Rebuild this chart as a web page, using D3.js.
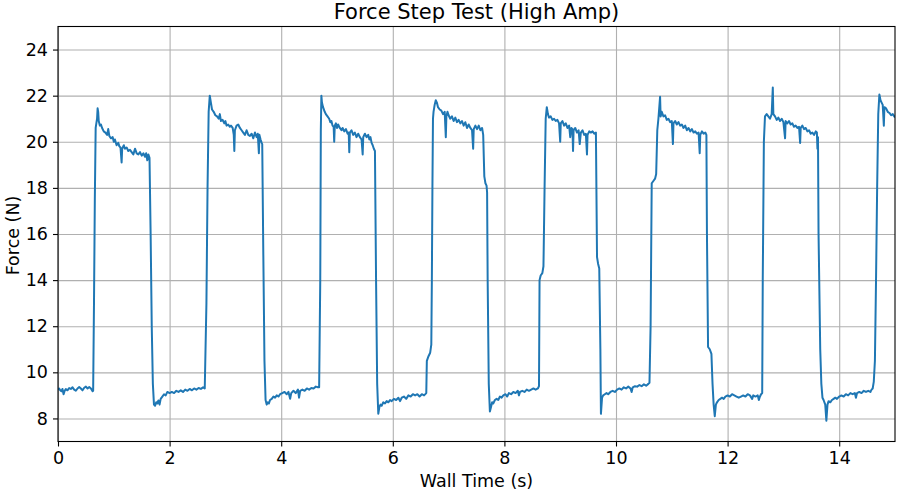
<!DOCTYPE html>
<html>
<head>
<meta charset="utf-8">
<script src="https://cdn.jsdelivr.net/npm/d3@7"></script>
<style>
  body { margin: 0; background: #fff; }
  text { font-family: "DejaVu Sans", sans-serif; fill: #000; }
</style>
</head>
<body>
<div class="chart"></div>
<script>
// readings: [wall time (s), force (N)]
let cycle1 = [
  [0,9.25],[0.02,9.3],[0.04,9.22],[0.06,9.18],[0.08,9.28],[0.1,9.05],[0.12,9.2],[0.14,9.27],[0.17,9.22],[0.2,9.32],
  [0.23,9.28],[0.26,9.35],[0.29,9.25],[0.32,9.2],[0.35,9.3],[0.38,9.36],[0.41,9.3],[0.44,9.22],[0.47,9.33],[0.5,9.38],
  [0.53,9.3],[0.56,9.36],[0.59,9.3],[0.62,9.18],[0.63,9.2],
  [0.645,13],[0.66,17.5],[0.675,20.6],[0.7,21.0],[0.71,21.45],[0.72,21.3],[0.73,20.9],[0.75,20.7],[0.77,20.75],[0.79,20.6],
  [0.82,20.45],[0.85,20.4],[0.88,20.3],[0.9,20.55],[0.92,20.25],[0.95,20.15],[0.98,20.2],[1.0,20.0],[1.02,20.1],[1.05,19.85],
  [1.08,19.95],[1.1,19.8],[1.12,19.75],[1.14,19.1],[1.15,19.7],[1.18,19.85],[1.2,19.7],[1.23,19.75],[1.26,19.6],[1.29,19.65],
  [1.32,19.55],[1.35,19.45],[1.38,19.7],[1.41,19.5],[1.44,19.45],[1.47,19.55],[1.5,19.4],[1.53,19.5],[1.56,19.35],[1.58,19.5],
  [1.6,19.2],[1.62,19.45],[1.64,19.3]
];
let cycle2 = [
  [1.66,16],[1.68,12],[1.7,9.5],[1.72,8.6],[1.74,8.55],[1.76,8.7],[1.78,8.65],[1.8,8.78],[1.82,8.6],[1.84,8.85],
  [1.87,8.95],[1.9,9.05],[1.93,9.0],[1.96,9.15],[2.0,9.1],[2.04,9.15],[2.08,9.1],[2.12,9.2],[2.16,9.15],[2.2,9.22],
  [2.24,9.15],[2.28,9.25],[2.32,9.2],[2.36,9.28],[2.4,9.22],[2.44,9.3],[2.48,9.25],[2.52,9.32],[2.56,9.28],[2.6,9.35],[2.63,9.3],
  [2.66,13],[2.68,18],[2.7,21.3],[2.72,22.0],[2.74,21.7],[2.76,21.4],[2.79,21.3],[2.82,21.15],[2.85,21.1],[2.88,21.0],
  [2.9,21.2],[2.92,20.9],[2.95,20.95],[2.98,20.8],[3.0,20.9],[3.02,20.7],[3.05,20.75],[3.08,20.65],[3.1,20.7],[3.13,20.6],
  [3.15,20.3],[3.16,19.6],[3.17,20.5],[3.2,20.7],[3.23,20.75],[3.26,20.6],[3.29,20.5],[3.32,20.4],[3.35,20.3],[3.38,20.5],
  [3.41,20.3],[3.44,20.25],[3.47,20.35],[3.5,20.15],[3.53,20.4],[3.56,20.2],[3.58,20.35],[3.6,19.5],[3.61,20.3],[3.63,20.1],
  [3.65,19.95],[3.66,19.9]
];
let cycle3 = [
  [3.68,15],[3.7,10.5],[3.72,8.8],[3.74,8.6],[3.76,8.7],[3.78,8.65],[3.8,8.8],[3.83,8.85],[3.86,8.95],[3.89,8.9],
  [3.92,9.0],[3.95,8.95],[3.98,9.05],[4.02,9.1],[4.06,9.15],[4.1,9.05],[4.13,9.15],[4.16,8.85],[4.18,9.1],[4.22,9.2],
  [4.26,9.1],[4.3,9.25],[4.32,8.9],[4.34,9.2],[4.38,9.25],[4.42,9.2],[4.46,9.3],[4.5,9.25],[4.54,9.32],[4.58,9.3],
  [4.62,9.38],[4.66,9.35],[4.68,9.35],
  [4.7,14],[4.71,20.5],[4.72,22.0],[4.73,21.7],[4.75,21.5],[4.78,21.3],[4.8,21.2],[4.83,21.1],[4.86,21.0],[4.88,20.85],
  [4.9,20.9],[4.92,20.7],[4.94,20.65],[4.95,20.0],[4.96,20.7],[4.98,20.8],[5.0,20.6],[5.02,20.75],[5.05,20.6],[5.08,20.5],
  [5.1,20.6],[5.13,20.45],[5.16,20.55],[5.19,20.35],[5.21,20.4],[5.22,19.55],[5.23,20.4],[5.26,20.5],[5.29,20.3],[5.32,20.4],
  [5.35,20.2],[5.38,20.35],[5.41,20.2],[5.44,20.1],[5.46,19.45],[5.47,20.2],[5.5,20.35],[5.53,20.2],[5.56,20.3],[5.58,20.1],
  [5.6,20.2],[5.62,19.95],[5.64,19.85],[5.66,19.7],[5.68,19.6]
];
let cycle4 = [
  [5.7,14],[5.72,9.5],[5.74,8.2],[5.76,8.5],[5.78,8.6],[5.8,8.55],[5.83,8.7],[5.86,8.65],[5.89,8.75],[5.92,8.7],
  [5.95,8.8],[5.98,8.75],[6.02,8.85],[6.06,8.8],[6.1,8.9],[6.13,8.75],[6.16,8.9],[6.2,8.95],[6.24,8.85],[6.28,9.0],
  [6.32,8.95],[6.36,9.05],[6.4,9.0],[6.44,9.05],[6.48,8.95],[6.52,9.05],[6.56,9.0],[6.6,9.1],[6.61,10.5],[6.64,10.7],
  [6.67,10.85],[6.69,11.2],[6.7,14],[6.71,18],[6.72,21.0],
  [6.73,21.3],[6.75,21.6],[6.77,21.8],[6.79,21.7],[6.81,21.5],[6.84,21.4],[6.87,21.35],[6.9,21.2],[6.93,21.3],[6.95,20.2],
  [6.96,21.1],[6.98,21.3],[7.0,21.15],[7.03,21.0],[7.06,21.1],[7.09,20.9],[7.12,21.05],[7.15,20.85],[7.18,20.95],[7.21,20.8],
  [7.24,20.9],[7.27,20.7],[7.3,20.85],[7.33,20.6],[7.36,20.75],[7.39,20.6],[7.42,20.5],[7.44,19.7],[7.45,20.55],[7.48,20.7],
  [7.51,20.55],[7.54,20.7],[7.57,20.5],[7.6,20.6],[7.62,20.3],[7.64,18.5],[7.66,18.2],[7.68,18.1],[7.69,17.8]
];
let cycle5 = [
  [7.7,14],[7.72,9.5],[7.74,8.3],[7.76,8.5],[7.78,8.7],[7.8,8.65],[7.83,8.8],[7.86,8.85],[7.89,8.8],[7.92,8.95],
  [7.95,8.9],[7.98,9.0],[8.02,9.05],[8.05,8.95],[8.08,9.1],[8.12,9.05],[8.16,9.15],[8.2,9.1],[8.24,9.2],[8.26,9.0],
  [8.28,9.15],[8.32,9.2],[8.36,9.15],[8.4,9.25],[8.44,9.2],[8.48,9.25],[8.52,9.3],[8.56,9.25],[8.6,9.3],[8.62,9.4],
  [8.63,14.0],[8.65,14.2],[8.68,14.3],[8.7,14.6],[8.72,18],[8.74,21.0],[8.76,21.5],
  [8.78,21.2],[8.8,21.05],[8.83,21.1],[8.86,20.95],[8.89,21.0],[8.92,20.9],[8.95,20.95],[8.98,20.8],[9.0,20.0],[9.01,20.8],
  [9.04,20.9],[9.07,20.7],[9.1,20.8],[9.13,20.6],[9.16,20.7],[9.18,20.2],[9.2,20.6],[9.22,20.55],[9.23,19.6],[9.24,20.5],
  [9.27,20.6],[9.3,20.4],[9.33,20.5],[9.35,19.9],[9.37,20.4],[9.4,20.5],[9.43,20.3],[9.46,20.35],[9.48,19.45],[9.49,20.3],
  [9.52,20.45],[9.55,20.4],[9.58,20.45],[9.61,20.35],[9.64,20.4],[9.66,15],[9.68,14.7],[9.7,14.5],[9.72,11],[9.73,8.2]
];
let cycle6 = [
  [9.75,8.9],[9.77,9.0],[9.8,9.05],[9.83,9.1],[9.86,9.05],[9.9,9.15],[9.94,9.2],[9.98,9.15],[10.02,9.25],[10.06,9.3],
  [10.1,9.25],[10.14,9.35],[10.18,9.3],[10.22,9.38],[10.26,9.3],[10.28,9.15],[10.3,9.35],[10.34,9.4],[10.38,9.38],[10.42,9.45],
  [10.46,9.4],[10.5,9.48],[10.54,9.42],[10.58,9.5],[10.6,9.55],[10.62,12],[10.64,18.2],[10.67,18.3],[10.7,18.4],[10.72,18.6],
  [10.74,20.5],[10.76,21.0],[10.79,21.95],[10.8,21.1],[10.82,21.3],
  [10.85,21.1],[10.88,21.15],[10.91,20.95],[10.94,21.0],[10.97,20.85],[11.0,20.9],[11.02,19.9],[11.03,20.8],[11.06,20.9],[11.09,20.75],
  [11.12,20.85],[11.15,20.7],[11.18,20.75],[11.21,20.6],[11.24,20.7],[11.27,20.5],[11.3,20.6],[11.33,20.45],[11.36,20.55],[11.39,20.4],
  [11.42,20.45],[11.45,20.35],[11.48,20.4],[11.5,19.5],[11.51,20.3],[11.54,20.45],[11.57,20.35],[11.6,20.4],[11.62,20.3],[11.63,16],
  [11.65,11.1],[11.68,11.0],[11.71,10.8],[11.73,9.5],[11.75,8.6],[11.77,8.1]
];
let cycle7 = [
  [11.79,8.6],[11.81,8.7],[11.84,8.8],[11.87,8.85],[11.9,8.9],[11.93,8.85],[11.96,8.95],[12.0,9.0],[12.04,8.95],[12.08,9.05],
  [12.12,9.0],[12.16,8.95],[12.2,8.9],[12.24,8.95],[12.28,9.0],[12.32,8.95],[12.36,9.05],[12.4,9.0],[12.44,8.85],[12.46,9.0],
  [12.5,8.95],[12.54,9.0],[12.56,8.8],[12.58,8.95],[12.6,9.05],[12.62,9.1],[12.63,14],[12.65,20],[12.67,21.1],[12.7,21.2],
  [12.73,21.1],[12.76,21.0],[12.79,21.2],[12.81,22.35],[12.82,21.2],[12.85,21.1],
  [12.88,20.95],[12.91,21.05],[12.94,20.9],[12.97,21.0],[13.0,20.85],[13.03,20.15],[13.04,20.9],[13.07,20.8],[13.1,20.9],[13.13,20.75],
  [13.16,20.8],[13.19,20.65],[13.22,20.7],[13.25,20.6],[13.28,20.65],[13.3,19.95],[13.31,20.6],[13.34,20.7],[13.37,20.55],[13.4,20.6],
  [13.43,20.45],[13.46,20.5],[13.49,20.35],[13.52,20.4],[13.55,20.3],[13.58,20.45],[13.6,20.4],[13.61,19.7],[13.62,20.2],[13.63,16],
  [13.66,11],[13.68,9.5],[13.7,8.9],[13.72,8.8],[13.75,8.6],[13.77,7.9],[13.79,8.6],[13.81,8.75]
];
let cycle8 = [
  [13.84,8.7],[13.87,8.8],[13.9,8.85],[13.93,8.9],[13.96,8.85],[14.0,8.95],[14.04,9.0],[14.08,8.95],[14.12,9.05],[14.16,9.0],
  [14.2,9.1],[14.24,9.05],[14.28,9.1],[14.3,8.9],[14.32,9.1],[14.36,9.15],[14.4,9.1],[14.44,9.2],[14.48,9.15],[14.52,9.2],
  [14.56,9.15],[14.58,9.25],[14.6,9.3],[14.62,9.6],[14.64,10.5],[14.66,14],[14.68,18],[14.7,21.2],[14.72,22.05],[14.74,21.8],
  [14.76,21.7],[14.78,21.6],[14.8,20.7],[14.81,21.5],[14.84,21.45],[14.87,21.3],[14.9,21.25],[14.93,21.15],[14.96,21.2],[15.0,21.05]
];

let forceData = [].concat(cycle1, cycle2, cycle3, cycle4, cycle5, cycle6, cycle7, cycle8);

let xTicks = [0, 2, 4, 6, 8, 10, 12, 14];
let yTicks = [8, 10, 12, 14, 16, 18, 20, 22, 24];

let margin = {top: 26.5, right: 6, bottom: 52.5, left: 58},
  width = 901 - margin.left - margin.right,
  height = 494 - margin.top - margin.bottom;

let svg = d3.select(".chart")
  .append("svg")
  .attr("width", 901)
  .attr("height", 494);

let g = svg.append("g")
  .attr("transform", "translate(" + margin.left + "," + margin.top + ")");

let x = d3.scaleLinear().domain([0, 15]).range([0, width]);
let y = d3.scaleLinear().domain([7, 25]).range([height, 0]);

// grid
g.append("g")
  .attr("class", "grid")
  .attr("transform", "translate(0," + height + ")")
  .call(d3.axisBottom(x).tickValues(xTicks).tickSize(-height).tickFormat(""))
  .call(a => a.select(".domain").remove());
g.append("g")
  .attr("class", "grid")
  .call(d3.axisLeft(y).tickValues(yTicks).tickSize(-width).tickFormat(""))
  .call(a => a.select(".domain").remove());
g.selectAll(".grid line")
  .attr("stroke", "#b0b0b0")
  .attr("stroke-width", 1.1);

g.append("clipPath")
  .attr("id", "clip")
  .append("rect")
  .attr("width", width)
  .attr("height", height);

let line = d3.line()
  .x(d => x(d[0]))
  .y(d => y(d[1]));

g.append("path")
  .datum(forceData)
  .attr("clip-path", "url(#clip)")
  .attr("fill", "none")
  .attr("stroke", "#1f77b4")
  .attr("stroke-width", 2)
  .attr("stroke-linejoin", "round")
  .attr("d", line);

// frame
g.append("rect")
  .attr("width", width)
  .attr("height", height)
  .attr("fill", "none")
  .attr("stroke", "#000")
  .attr("stroke-width", 1.1);

// axes
let xAxis = g.append("g")
  .attr("transform", "translate(0," + height + ")")
  .call(d3.axisBottom(x).tickValues(xTicks).tickSize(5).tickPadding(5));
let yAxis = g.append("g")
  .call(d3.axisLeft(y).tickValues(yTicks).tickSize(5).tickPadding(5));
[xAxis, yAxis].forEach(a => {
  a.select(".domain").remove();
  a.selectAll("line").attr("stroke", "#000").attr("stroke-width", 1.1);
  a.selectAll("text")
    .attr("font-family", "DejaVu Sans, sans-serif")
    .attr("font-size", 17.5)
    .attr("fill", "#000");
});

svg.append("text")
  .attr("x", margin.left + width / 2)
  .attr("y", 19)
  .attr("text-anchor", "middle")
  .attr("font-size", 21)
  .text("Force Step Test (High Amp)");

svg.append("text")
  .attr("x", margin.left + width / 2)
  .attr("y", 486.5)
  .attr("text-anchor", "middle")
  .attr("font-size", 17.5)
  .text("Wall Time (s)");

svg.append("text")
  .attr("transform", "translate(18.5," + (margin.top + height / 2 + 1.5) + ") rotate(-90)")
  .attr("text-anchor", "middle")
  .attr("font-size", 17.5)
  .text("Force (N)");
</script>
</body>
</html>
